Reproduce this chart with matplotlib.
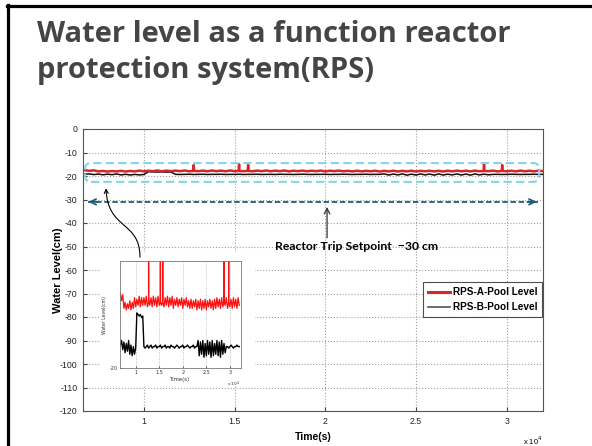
import matplotlib
matplotlib.use('Agg')
import matplotlib.pyplot as plt
from matplotlib.patches import FancyBboxPatch, FancyArrowPatch, Rectangle
from matplotlib.path import Path
from matplotlib.lines import Line2D

plt.rcParams['axes.unicode_minus'] = False

# sample times in units of 1e4 s (RPS-B trace)
time_e4 = [
    0.675, 0.700, 0.725, 0.750, 0.775, 0.800, 0.825, 0.850, 0.875, 0.900,
    0.925, 0.950, 0.975, 1.000, 1.025, 1.050, 1.075, 1.100, 1.125, 1.150,
    1.175, 1.200, 1.225, 1.250, 1.275, 1.300, 1.325, 1.350, 1.375, 1.400,
    1.425, 1.450, 1.475, 1.500, 1.525, 1.550, 1.575, 1.600, 1.625, 1.650,
    1.675, 1.700, 1.725, 1.750, 1.775, 1.800, 1.825, 1.850, 1.875, 1.900,
    1.925, 1.950, 1.975, 2.000, 2.025, 2.050, 2.075, 2.100, 2.125, 2.150,
    2.175, 2.200, 2.225, 2.250, 2.275, 2.300, 2.325, 2.350, 2.375, 2.400,
    2.425, 2.450, 2.475, 2.500, 2.525, 2.550, 2.575, 2.600, 2.625, 2.650,
    2.675, 2.700, 2.725, 2.750, 2.775, 2.800, 2.825, 2.850, 2.875, 2.900,
    2.925, 2.950, 2.975, 3.000, 3.025, 3.050, 3.075, 3.100, 3.125, 3.150,
    3.175, 3.200]

rps_b = [
    -19.25, -19.10, -19.40, -19.15, -19.50, -19.20, -19.45, -19.10, -19.55, -19.25,
    -19.60, -19.30, -19.55, -19.35, -18.20, -18.25, -18.30, -18.25, -18.35, -18.30,
    -19.30, -19.35, -19.30, -19.25, -19.35, -19.30, -19.25, -19.35, -19.30, -19.30,
    -19.25, -19.35, -19.30, -19.30, -19.25, -19.35, -19.30, -19.30, -19.25, -19.35,
    -19.30, -19.30, -19.35, -19.25, -19.30, -19.30, -19.35, -19.30, -19.25, -19.30,
    -19.35, -19.30, -19.30, -19.25, -19.35, -19.30, -19.30, -19.25, -19.30, -19.35,
    -19.30, -19.30, -19.25, -19.35, -19.30, -19.30, -19.10, -19.60, -19.15, -19.55,
    -19.10, -19.65, -19.20, -19.60, -19.10, -19.55, -19.15, -19.65, -19.10, -19.60,
    -19.20, -19.55, -19.10, -19.60, -19.15, -19.65, -19.10, -19.55, -19.20, -19.50,
    -19.30, -19.30, -19.35, -19.30, -19.25, -19.30, -19.35, -19.30, -19.30, -19.25,
    -19.30, -19.30]

# RPS-A trace, with short spikes
time_a_e4 = [
    0.675, 0.700, 0.725, 0.750, 0.775, 0.800, 0.825, 0.850, 0.875, 0.900,
    0.925, 0.950, 0.975, 1.000, 1.025, 1.050, 1.075, 1.100, 1.125, 1.150,
    1.175, 1.200, 1.225, 1.250, 1.273, 1.275, 1.277, 1.300, 1.325, 1.350, 1.375, 1.400,
    1.425, 1.450, 1.475, 1.500, 1.523, 1.525, 1.527, 1.550, 1.573, 1.575, 1.577, 1.600,
    1.625, 1.650,
    1.675, 1.700, 1.725, 1.750, 1.775, 1.800, 1.825, 1.850, 1.875, 1.900,
    1.925, 1.950, 1.975, 2.000, 2.025, 2.050, 2.075, 2.100, 2.125, 2.150,
    2.175, 2.200, 2.225, 2.250, 2.275, 2.300, 2.325, 2.350, 2.375, 2.400,
    2.425, 2.450, 2.475, 2.500, 2.525, 2.550, 2.575, 2.600, 2.625, 2.650,
    2.675, 2.700, 2.725, 2.750, 2.775, 2.800, 2.825, 2.850, 2.873, 2.875, 2.877, 2.900,
    2.925, 2.950, 2.973, 2.975, 2.977, 3.000, 3.025, 3.050, 3.075, 3.100, 3.125, 3.150,
    3.175, 3.200]

rps_a = [
    -17.55, -17.80, -17.60, -18.05, -17.85, -18.10, -17.90, -18.05, -17.80, -18.10,
    -17.85, -18.05, -17.70, -18.00, -17.75, -17.95, -17.65, -18.00, -17.70, -17.95,
    -17.70, -17.95, -17.65, -18.00, -17.85, -15.30, -17.80, -17.95, -17.70, -18.00, -17.65, -17.95,
    -17.70, -18.00, -17.65, -17.95, -17.85, -15.00, -17.85, -17.95, -17.80, -15.30, -17.85, -18.00,
    -17.70, -17.95,
    -17.65, -18.00, -17.70, -17.95, -17.65, -18.05, -17.75, -17.95, -17.70, -18.00,
    -17.75, -17.95, -17.70, -18.05, -17.75, -17.95, -17.70, -18.00, -17.80, -18.05,
    -17.75, -18.05, -17.80, -18.00, -17.75, -18.10, -17.80, -18.05, -17.75, -18.10,
    -17.80, -18.05, -17.75, -18.10, -17.80, -18.00, -17.75, -18.05, -17.80, -18.10,
    -17.75, -18.05, -17.70, -18.00, -17.75, -18.05, -17.70, -18.00, -17.85, -14.80, -17.85, -17.95,
    -17.70, -18.05, -17.85, -15.30, -17.85, -18.00, -17.75, -18.05, -17.70, -18.00, -17.75, -18.05,
    -17.70, -17.95]

time_s = [t * 1e4 for t in time_e4]
time_a_s = [t * 1e4 for t in time_a_e4]

trip_setpoint = -31
x_ticks = [10000, 15000, 20000, 25000, 30000]
x_tick_labels = ['1', '1.5', '2', '2.5', '3']
y_ticks = list(range(-120, 1, 10))

arial = ['Liberation Sans', 'DejaVu Sans']
red = '#d62626'

fig = plt.figure(figsize=(5.92, 4.46), dpi=100)

# slide border
fig.add_artist(Line2D([7 / 592, 1.0], [1 - 5.5 / 446] * 2, color='black', lw=2.3))
fig.add_artist(Line2D([8 / 592] * 2, [0, 1 - 5 / 446], color='black', lw=2.3))

fig.text(37 / 592, 1 - 20 / 446,
         'Water level as a function reactor\nprotection system(RPS)',
         fontsize=21, fontweight='bold', family=['Open Sans', 'DejaVu Sans'],
         color='#454545', va='top', ha='left', linespacing=1.3)

# main chart
ax = fig.add_axes([83 / 592, 1 - 411 / 446, 460 / 592, 282 / 446])
ax.plot(time_a_s, rps_a, color=red, lw=1.8, label='RPS-A-Pool Level', zorder=3)
ax.plot(time_s, rps_b, color='#111111', lw=1.1, label='RPS-B-Pool Level', zorder=2.8)
ax.set_xlim(6650, 32000)
ax.set_ylim(-120, 0)
ax.set_xticks(x_ticks)
ax.set_xticklabels(x_tick_labels)
ax.set_yticks(y_ticks)
ax.grid(True, ls=':', color='#a0a0a0', lw=0.8)
ax.tick_params(direction='in', length=3, color='#444444', labelsize=6.3,
               labelcolor='#222222', pad=4)
for lab in ax.get_xticklabels() + ax.get_yticklabels():
    lab.set_family(arial)
for sp in ax.spines.values():
    sp.set_color('#555555')
    sp.set_linewidth(0.8)
ax.set_ylabel('Water Level(cm)', fontsize=8, fontweight='bold', family=arial,
              labelpad=-2)
ax.set_xlabel('Time(s)', fontsize=7.5, fontweight='bold', family=arial, labelpad=5)
ax.text(1.0, -0.085, r'x 10$^4$', transform=ax.transAxes, fontsize=5.5,
        family=arial, ha='right', va='top')

# white background of the pasted zoom image
ax.add_patch(Rectangle((0.039, 0.089), 0.335, 0.475, transform=ax.transAxes,
                       facecolor='white', edgecolor='none', zorder=2.5))

# dashed highlight box round the level traces
box = FancyBboxPatch((6760, -22.5), 31790 - 6760, 8,
                     boxstyle='round,pad=0,rounding_size=331',
                     mutation_aspect=0.00772, fill=False,
                     edgecolor='#86d4ea', lw=1.5, ls=(0, (4, 2)), zorder=4)
ax.add_patch(box)

# trip setpoint double arrow
teal = '#1d5e76'
ax.plot([6900, 31700], [trip_setpoint] * 2, color=teal, lw=1.3, ls=(0, (3, 1.5)), zorder=4)
ax.annotate('', xy=(6800, trip_setpoint), xytext=(7600, trip_setpoint),
            arrowprops=dict(arrowstyle='->', color=teal, lw=1.3), zorder=4)
ax.annotate('', xy=(31800, trip_setpoint), xytext=(31000, trip_setpoint),
            arrowprops=dict(arrowstyle='->', color=teal, lw=1.3), zorder=4)

ax.annotate('', xy=(20100, -32), xytext=(20100, -47.5),
            arrowprops=dict(arrowstyle='->', color='#333333', lw=0.9), zorder=4)
ax.text(21750, -50.1, 'Reactor Trip Setpoint  \u221230 cm', fontsize=8.8,
        fontweight='bold', family=['Lato', 'DejaVu Sans'], ha='center', va='center',
        zorder=4)

# curved arrow from zoom image to the traces
verts = [(9790, -54.5), (9790, -39.0), (8000, -43.0), (7920, -25.2)]
codes = [Path.MOVETO, Path.CURVE4, Path.CURVE4, Path.CURVE4]
ax.add_patch(FancyArrowPatch(path=Path(verts, codes), arrowstyle='->',
                             mutation_scale=7, color='black', lw=0.8, zorder=4))

leg = ax.legend(loc='upper right', bbox_to_anchor=(1.009, 0.475),
                prop={'family': arial, 'size': 7.2, 'weight': 'bold'},
                frameon=True, fancybox=False, edgecolor='#222222',
                handlelength=2.2, borderpad=0.5, labelspacing=0.5,
                handletextpad=0.3)
leg.get_frame().set_linewidth(0.8)
leg.get_lines()[0].set_linewidth(2.2)
leg.get_lines()[1].set_color('#444444')
leg.set_zorder(5)

# zoomed inset
ins = fig.add_axes([120 / 592, 1 - 368 / 446, 120.7 / 592, 107 / 446])
ins.set_zorder(3)
ins.plot(time_a_s, rps_a, color='#ff1010', lw=0.9)
ins.plot(time_s, rps_b, color='black', lw=1.0)
ins.set_xlim(6670, 32300)
ins.set_ylim(-20, -16.5)
ins.set_xticks(x_ticks)
ins.set_xticklabels(x_tick_labels)
ins.set_yticks([-20])
ins.grid(True, axis='x', ls=':', color='#b0b0b0', lw=0.6)
ins.tick_params(direction='in', length=1.5, labelsize=3.5, pad=1.5,
                color='#666666', labelcolor='#333333')
for sp in ins.spines.values():
    sp.set_color('#777777')
    sp.set_linewidth(0.6)
ins.set_xlabel('Time(s)', fontsize=3.8, labelpad=1.5, color='#333333')
ins.set_ylabel('Water Level(cm)', fontsize=3.3, labelpad=2, color='#333333')
ins.text(1.0, -0.11, r'x 10$^4$', transform=ins.transAxes, fontsize=3.2,
         ha='right', va='top', color='#333333')

fig.savefig('out.png', dpi=100)
